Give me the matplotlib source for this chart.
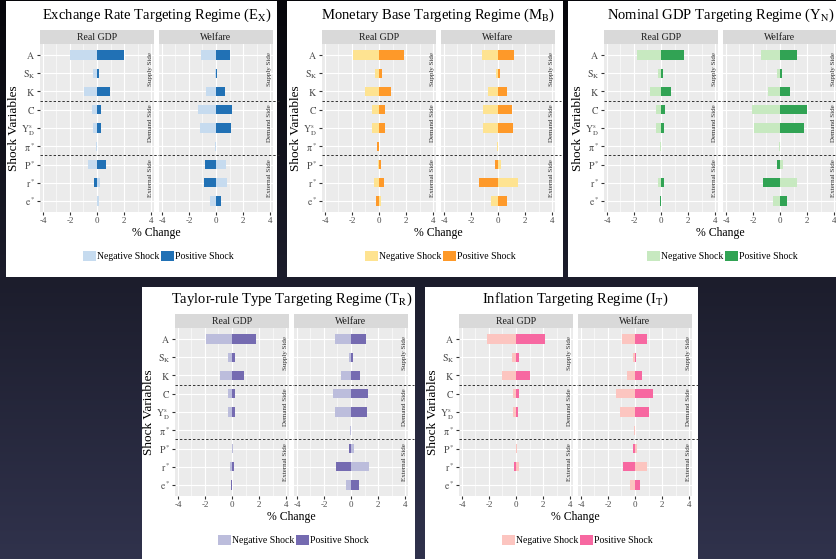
import numpy as np
import matplotlib.pyplot as plt
from matplotlib.patches import Rectangle, Patch
from matplotlib.colors import LinearSegmentedColormap

plt.rcParams['font.family'] = ['Liberation Serif', 'DejaVu Serif']
plt.rcParams['mathtext.fontset'] = 'stix'

W, H = 836, 559

# shock variables (top to bottom)
shocks = [r'$\mathrm{A}$', r'$\mathrm{S_K}$', r'$\mathrm{K}$', r'$\mathrm{C}$',
          r'$\mathrm{Y^s_D}$', r'$\mathrm{\pi^*}$', r'$\mathrm{P^*}$',
          r'$\mathrm{r^*}$', r'$\mathrm{e^*}$']
sides = ["Supply Side", "Demand Side", "External Side"]
side_rows = [1, 4, 7]
facets = ["Real GDP", "Welfare"]
legend_labels = ["Negative Shock", "Positive Shock"]

# % change in real GDP / welfare after a negative and a positive shock
ex_gdp_neg = [-2.0, -0.28, -0.97, -0.38, -0.33, -0.1, -0.65, 0.2, 0.15]
ex_gdp_pos = [2.0, 0.18, 0.94, 0.28, 0.28, 0.0, 0.68, -0.2, 0.0]
ex_wel_neg = [-1.12, -0.05, -0.71, -1.3, -1.22, -0.1, 0.75, 0.8, -0.42]
ex_wel_pos = [1.0, 0.08, 0.64, 1.2, 1.1, 0.0, -0.8, -0.9, 0.35]

mb_gdp_neg = [-1.95, -0.3, -1.0, -0.55, -0.55, -0.05, -0.05, -0.4, 0.15]
mb_gdp_pos = [1.88, 0.2, 0.9, 0.45, 0.42, -0.12, 0.12, 0.4, -0.2]
mb_wel_neg = [-1.2, -0.15, -0.75, -1.1, -1.1, -0.1, 0.25, 1.5, -0.55]
mb_wel_pos = [1.15, 0.15, 0.7, 1.05, 1.1, 0.0, -0.25, -1.4, 0.65]

yn_gdp_neg = [-1.8, -0.25, -0.85, -0.35, -0.38, -0.08, -0.03, -0.2, 0.0]
yn_gdp_pos = [1.7, 0.18, 0.75, 0.28, 0.25, 0.0, 0.0, 0.2, -0.08]
yn_wel_neg = [-1.37, -0.25, -0.9, -2.05, -1.9, -0.1, 0.2, 1.27, -0.5]
yn_wel_pos = [1.27, 0.13, 0.77, 1.98, 1.8, 0.0, -0.2, -1.25, 0.55]

tr_gdp_neg = [-1.9, -0.3, -0.92, -0.3, -0.3, 0.0, 0.05, -0.12, 0.0]
tr_gdp_pos = [1.8, 0.2, 0.87, 0.22, 0.2, 0.0, 0.0, 0.18, -0.05]
tr_wel_neg = [-1.17, -0.17, -0.72, -1.35, -1.22, -0.1, 0.2, 1.3, -0.38]
tr_wel_pos = [1.12, 0.12, 0.63, 1.27, 1.2, 0.0, -0.15, -1.1, 0.6]

it_gdp_neg = [-2.13, -0.28, -1.05, -0.22, -0.2, 0.0, 0.05, 0.2, 0.03]
it_gdp_pos = [2.13, 0.25, 1.0, 0.2, 0.18, 0.0, 0.0, -0.18, 0.0]
it_wel_neg = [-0.93, -0.15, -0.58, -1.38, -1.13, -0.08, 0.12, 0.9, -0.35]
it_wel_pos = [0.88, 0.1, 0.55, 1.3, 1.05, 0.0, -0.12, -0.88, 0.35]

regimes = [
    dict(title=r'Exchange Rate Targeting Regime (E$_\mathrm{X}$)',
         data=(ex_gdp_neg, ex_gdp_pos, ex_wel_neg, ex_wel_pos),
         colors=('#c6dbef', '#2171b5'), box=(6, 1, 277, 277), fx=40, sy=30),
    dict(title=r'Monetary Base Targeting Regime (M$_\mathrm{B}$)',
         data=(mb_gdp_neg, mb_gdp_pos, mb_wel_neg, mb_wel_pos),
         colors=('#fee391', '#fe9929'), box=(287, 1, 563, 277), fx=322, sy=30),
    dict(title=r'Nominal GDP Targeting Regime (Y$_\mathrm{N}$)',
         data=(yn_gdp_neg, yn_gdp_pos, yn_wel_neg, yn_wel_pos),
         colors=('#c7e9c0', '#31a354'), box=(568, 1, 836, 277), fx=604, sy=30),
    dict(title=r'Taylor-rule Type Targeting Regime (T$_\mathrm{R}$)',
         data=(tr_gdp_neg, tr_gdp_pos, tr_wel_neg, tr_wel_pos),
         colors=('#bcbddc', '#756bb1'), box=(142, 287, 415, 559), fx=175, sy=314),
    dict(title=r'Inflation Targeting Regime (I$_\mathrm{T}$)',
         data=(it_gdp_neg, it_gdp_pos, it_wel_neg, it_wel_pos),
         colors=('#fcc5c0', '#f768a1'), box=(425, 287, 698, 559), fx=459, sy=314),
]

fig = plt.figure(figsize=(W / 100, H / 100), dpi=100)


def fx_(x):
    return x / W


def fy_(y):
    return 1 - y / H


# slide background
bg = fig.add_axes([0, 0, 1, 1])
bg.set_zorder(-3)
cmap = LinearSegmentedColormap.from_list('slide', ['#06060a', '#1c1d2c', '#30324c'])
bg.imshow(np.linspace(0, 1, 256)[:, None], aspect='auto', cmap=cmap,
          extent=[0, 1, 0, 1])
bg.set_axis_off()

FW, GAP, SH, PH = 114, 5, 14, 168
y_idx = np.arange(len(shocks))

for reg in regimes:
    x0, y0, x1, y1 = reg['box']
    fig.add_artist(Rectangle((fx_(x0), fy_(y1)), (x1 - x0) / W, (y1 - y0) / H,
                             transform=fig.transFigure, facecolor='white',
                             edgecolor='none', zorder=-2))
    fx, sy = reg['fx'], reg['sy']
    light, dark = reg['colors']
    total_w = 2 * FW + GAP
    cx = fx + total_w / 2

    fig.text(fx_(cx), fy_(sy - 15), reg['title'], ha='center', va='center',
             fontsize=10.5, color='black')
    fig.text(fx_(fx - 26), fy_(sy + SH + PH / 2), 'Shock Variables', rotation=90,
             ha='center', va='center', fontsize=9.5)
    fig.text(fx_(cx), fy_(sy + SH + PH + 21), '% Change', ha='center',
             va='center', fontsize=8.5)

    for k, name in enumerate(facets):
        left = fx + k * (FW + GAP)
        neg, pos = reg['data'][2 * k], reg['data'][2 * k + 1]
        # strip
        fig.add_artist(Rectangle((fx_(left), fy_(sy + SH)), FW / W, SH / H,
                                 transform=fig.transFigure, facecolor='#d9d9d9',
                                 edgecolor='none', zorder=-1))
        fig.text(fx_(left + FW / 2), fy_(sy + SH / 2), name, ha='center',
                 va='center', fontsize=7, color='#1a1a1a')

        ax = fig.add_axes([fx_(left), fy_(sy + SH + PH), FW / W, PH / H])
        ax.set_facecolor('#ebebeb')
        ax.barh(y_idx, neg, height=0.5, color=light, zorder=2)
        ax.barh(y_idx, pos, height=0.5, color=dark, zorder=3)
        ax.set_xlim(-4.22, 4.22)
        ax.set_ylim(8.6, -0.6)
        ax.set_xticks([-4, -2, 0, 2, 4])
        ax.set_xticks([-3, -1, 1, 3], minor=True)
        ax.set_xticklabels(['-4', '-2', '0', '2', '4'])
        ax.set_yticks(y_idx)
        ax.grid(which='major', color='white', lw=0.8)
        ax.grid(which='minor', axis='x', color='white', lw=0.4)
        ax.set_axisbelow(True)
        for s in ax.spines.values():
            s.set_visible(False)
        ax.tick_params(axis='x', which='major', length=2, color='#333333',
                       labelsize=6.5, labelcolor='#4d4d4d', pad=1.5)
        ax.tick_params(axis='x', which='minor', length=0)
        if k == 0:
            ax.set_yticklabels(shocks)
            ax.tick_params(axis='y', length=2, color='#333333', labelsize=7,
                           labelcolor='#4d4d4d', pad=1.5)
        else:
            ax.set_yticklabels([])
            ax.tick_params(axis='y', length=0)
        for yl in (2.5, 5.5):
            ax.axhline(yl, xmin=0, xmax=1.05, clip_on=False, color='#333333',
                       lw=0.7, ls=(0, (2.5, 2)), zorder=4)
        for lab, r in zip(sides, side_rows):
            ax.text(3.95, r - 0.25, lab, rotation=90, ha='center', va='center',
                    fontsize=5, color='#333333')

    handles = [Patch(facecolor=light), Patch(facecolor=dark)]
    fig.legend(handles, legend_labels, loc='center', ncol=2, frameon=False,
               bbox_to_anchor=(fx_(cx + 2), fy_(sy + 226)), fontsize=7,
               handlelength=1.3, handleheight=1.3, handletextpad=0.1,
               columnspacing=0.2, borderpad=0)

fig.savefig('out.png', dpi=100)
